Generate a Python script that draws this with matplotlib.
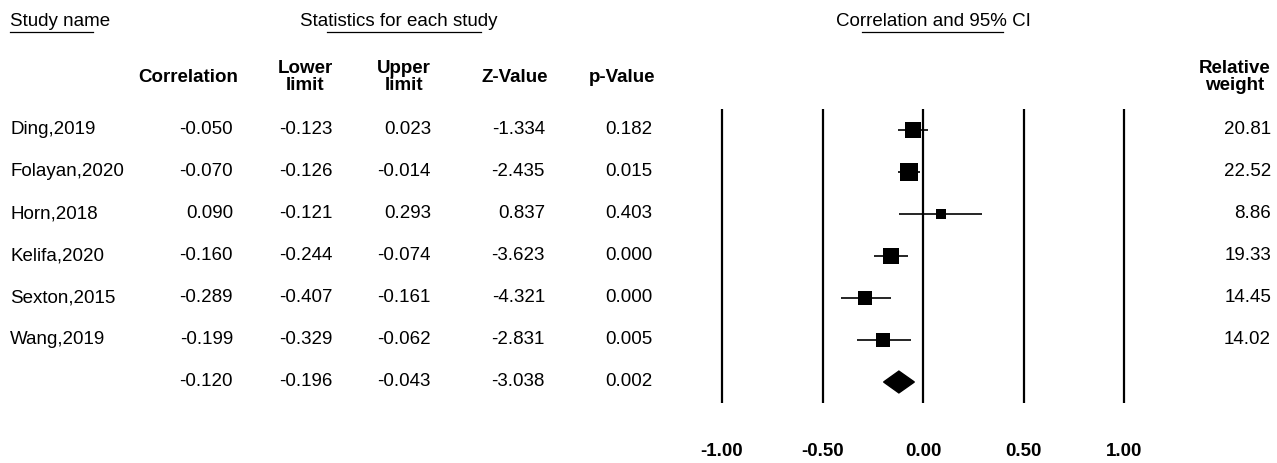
import matplotlib
matplotlib.use("Agg")
import matplotlib.pyplot as plt
from matplotlib.lines import Line2D
from matplotlib.patches import Polygon
from matplotlib.transforms import blended_transform_factory
import numpy as np

# data
studies = ["Ding,2019", "Folayan,2020", "Horn,2018", "Kelifa,2020", "Sexton,2015", "Wang,2019"]
correlation = [-0.050, -0.070, 0.090, -0.160, -0.289, -0.199]
lower = [-0.123, -0.126, -0.121, -0.244, -0.407, -0.329]
upper = [0.023, -0.014, 0.293, -0.074, -0.161, -0.062]
z_value = [-1.334, -2.435, 0.837, -3.623, -4.321, -2.831]
p_value = [0.182, 0.015, 0.403, 0.000, 0.000, 0.005]
rel_weight = [20.81, 22.52, 8.86, 19.33, 14.45, 14.02]

summary = {"correlation": -0.120, "lower": -0.196, "upper": -0.043, "z": -3.038, "p": 0.002}

ticks = [-1.00, -0.50, 0.00, 0.50, 1.00]
col_headers = ["Correlation", "Lower\nlimit", "Upper\nlimit", "Z-Value", "p-Value"]

plt.rcParams["font.family"] = ["Liberation Sans", "DejaVu Sans"]
FS = 13.5

W, H = 1277, 463
fig = plt.figure(figsize=(W / 100, H / 100), dpi=100)


def fx(px):
    return px / W


def fy(py):
    return 1 - py / H


# forest panel: x from -1 to 1, one row per study + summary
ax = fig.add_axes([fx(722), fy(403), fx(1124) - fx(722), (403 - 109) / H])
n_rows = len(studies) + 1
ax.set_xlim(-1, 1)
ax.set_ylim(n_rows - 0.5, -0.5)
ax.axis("off")

ax.vlines(ticks, -0.5, n_rows - 0.5, color="black", lw=1.6, clip_on=False)

for i in range(len(studies)):
    ax.plot([lower[i], upper[i]], [i, i], color="black", lw=1.2, solid_capstyle="butt")
    ax.plot(correlation[i], i, marker="s", color="black",
            markersize=2.66 * np.sqrt(rel_weight[i]), markeredgewidth=0)

ys = len(studies)
diamond = Polygon([[summary["lower"], ys], [summary["correlation"], ys - 0.26],
                   [summary["upper"], ys], [summary["correlation"], ys + 0.26]],
                  closed=True, color="black")
ax.add_patch(diamond)

tick_tr = ax.get_xaxis_transform()
for t in ticks:
    ax.text(t, -(452 - 403) / (403 - 109), f"{t:.2f}", transform=tick_tr,
            ha="center", va="center", fontsize=FS, fontweight="bold")

# table text: x in figure pixels, y in row units of the forest panel
tr = blended_transform_factory(fig.transFigure, ax.transData)

# titles with partial underlines (as drawn by the source software)
fig.text(fx(10), fy(21), "Study name", ha="left", va="center", fontsize=FS)
fig.text(fx(300), fy(21), "Statistics for each study", ha="left", va="center", fontsize=FS)
fig.text(fx(836), fy(21), "Correlation and 95% CI", ha="left", va="center", fontsize=FS)
for x0, x1 in [(10, 93), (327, 481), (862, 1003)]:
    fig.add_artist(Line2D([fx(x0), fx(x1)], [fy(32), fy(32)], color="black", lw=0.9))

header_right = [238, 333, 431, 548, 655]
value_right = [233, 333, 431, 545, 652]
for x, label in zip(header_right, col_headers):
    fig.text(fx(x), fy(77), label, ha="right", va="center", fontsize=FS,
             fontweight="bold", multialignment="center", linespacing=1.05)
fig.text(fx(1271), fy(77), "Relative\nweight", ha="right", va="center", fontsize=FS,
         fontweight="bold", multialignment="center", linespacing=1.05)

for i, name in enumerate(studies):
    ax.text(fx(10), i, name, transform=tr, ha="left", va="center", fontsize=FS)
    vals = [f"{correlation[i]:.3f}", f"{lower[i]:.3f}", f"{upper[i]:.3f}",
            f"{z_value[i]:.3f}", f"{p_value[i]:.3f}"]
    for x, v in zip(value_right, vals):
        ax.text(fx(x), i, v, transform=tr, ha="right", va="center", fontsize=FS)
    ax.text(fx(1271), i, f"{rel_weight[i]:.2f}", transform=tr, ha="right", va="center", fontsize=FS)

sum_vals = [f"{summary['correlation']:.3f}", f"{summary['lower']:.3f}", f"{summary['upper']:.3f}",
            f"{summary['z']:.3f}", f"{summary['p']:.3f}"]
for x, v in zip(value_right, sum_vals):
    ax.text(fx(x), ys, v, transform=tr, ha="right", va="center", fontsize=FS)

fig.savefig("out.png", dpi=100, facecolor="white")
plt.close(fig)
